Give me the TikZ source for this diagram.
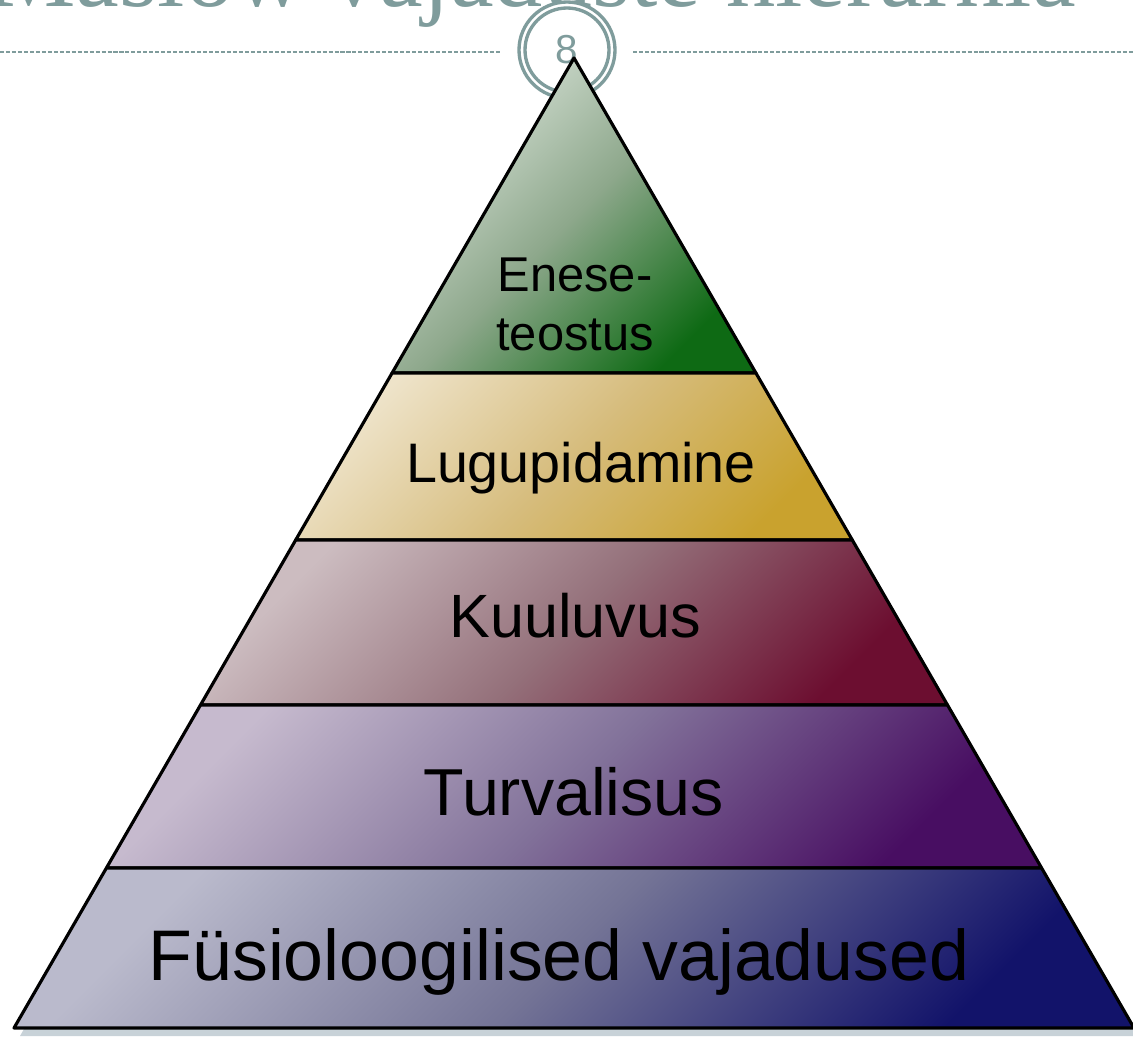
\documentclass[tikz,border=0pt]{standalone}
\usepackage{fontspec}
\setmainfont{Liberation Sans}
\newfontfamily\titlefont{Liberation Serif}
\usetikzlibrary{calc}
\definecolor{accent}{HTML}{7F9C9C}
\definecolor{shadowc}{HTML}{C8D2D8}
\definecolor{aL}{HTML}{DAE4DA}\definecolor{aM}{HTML}{8EA88C}\definecolor{aD}{HTML}{0E6A14}
\definecolor{bL}{HTML}{EEE3C9}\definecolor{bM}{HTML}{D6BC7C}\definecolor{bD}{HTML}{C9A22E}
\definecolor{cL}{HTML}{CCBCC0}\definecolor{cM}{HTML}{94707A}\definecolor{cD}{HTML}{6C0E30}
\definecolor{dL}{HTML}{C6BACE}\definecolor{dM}{HTML}{82729A}\definecolor{dD}{HTML}{480E62}
\definecolor{eL}{HTML}{BABACC}\definecolor{eM}{HTML}{747496}\definecolor{eD}{HTML}{12136A}
\begin{document}
\begin{tikzpicture}[x=0.02cm,y=-0.02cm,
  layer/.style={draw=black,line width=1.8pt,line join=round},
  grad/.style n args={3}{top color=#1,bottom color=#3,middle color=#2,shading angle=45},
  lbl/.style={anchor=base,inner sep=0pt,text=black}]
\useasboundingbox (0,0) rectangle (1133,1038);
\clip (0,0) rectangle (1133,1038);
% title (cut off at top)
\node[anchor=base west,inner sep=0pt,text=accent,font=\titlefont\fontsize{56}{60}\selectfont] (title) at (-12,6) {Maslow vajaduste hierarhia};
% dashed rule
\draw[accent,line width=0.9pt,dash pattern=on 2.3pt off 1.1pt] (0,52) -- (500,52);
\draw[accent,line width=0.9pt,dash pattern=on 2.3pt off 1.1pt] (633,52) -- (1133,52);
% page number badge
\draw[accent,line width=1.9pt,fill=white] (567,50) circle (48);
\draw[accent,line width=1.9pt] (567,50) circle (42);
\node[text=accent,inner sep=0pt,font=\fontsize{23}{25}\selectfont] (num) at (567,50) {8};
% pyramid coordinates
\coordinate (A) at (574,58);
\coordinate (L1) at (392.1,373);  \coordinate (R1) at (755.9,373);
\coordinate (L2) at (295.7,540);  \coordinate (R2) at (852.3,540);
\coordinate (L3) at (200.5,705);  \coordinate (R3) at (947.5,705);
\coordinate (L4) at (106.4,868);  \coordinate (R4) at (1041.6,868);
\coordinate (L5) at (14,1028);    \coordinate (R5) at (1134,1028);
% shadow
\fill[shadowc] ($(A)+(6,8)$) -- ($(R5)+(6,8)$) -- ($(L5)+(6,8)$) -- cycle;
% layers
\path[layer,grad={aL}{aM}{aD}] (A) -- (R1) -- (L1) -- cycle;
\path[layer,grad={bL}{bM}{bD}] (L1) -- (R1) -- (R2) -- (L2) -- cycle;
\path[layer,grad={cL}{cM}{cD}] (L2) -- (R2) -- (R3) -- (L3) -- cycle;
\path[layer,grad={dL}{dM}{dD}] (L3) -- (R3) -- (R4) -- (L4) -- cycle;
\path[layer,grad={eL}{eM}{eD}] (L4) -- (R4) -- (R5) -- (L5) -- cycle;
% labels
\node[lbl,font=\fontsize{27.8}{33}\selectfont] (t1a) at (575,291) {Enese-};
\node[lbl,font=\fontsize{27.8}{33}\selectfont] (t1b) at (575,350) {teostus};
\node[lbl,font=\fontsize{31.7}{36}\selectfont] (t2) at (581,482) {Lugupidamine};
\node[lbl,font=\fontsize{34.8}{40}\selectfont] (t3) at (575,637) {Kuuluvus};
\node[lbl,font=\fontsize{37.8}{43}\selectfont] (t4) at (574,815) {Turvalisus};
\node[lbl,font=\fontsize{40.8}{46}\selectfont] (t5) at (559,980) {Füsioloogilised vajadused};
\end{tikzpicture}
\end{document}
